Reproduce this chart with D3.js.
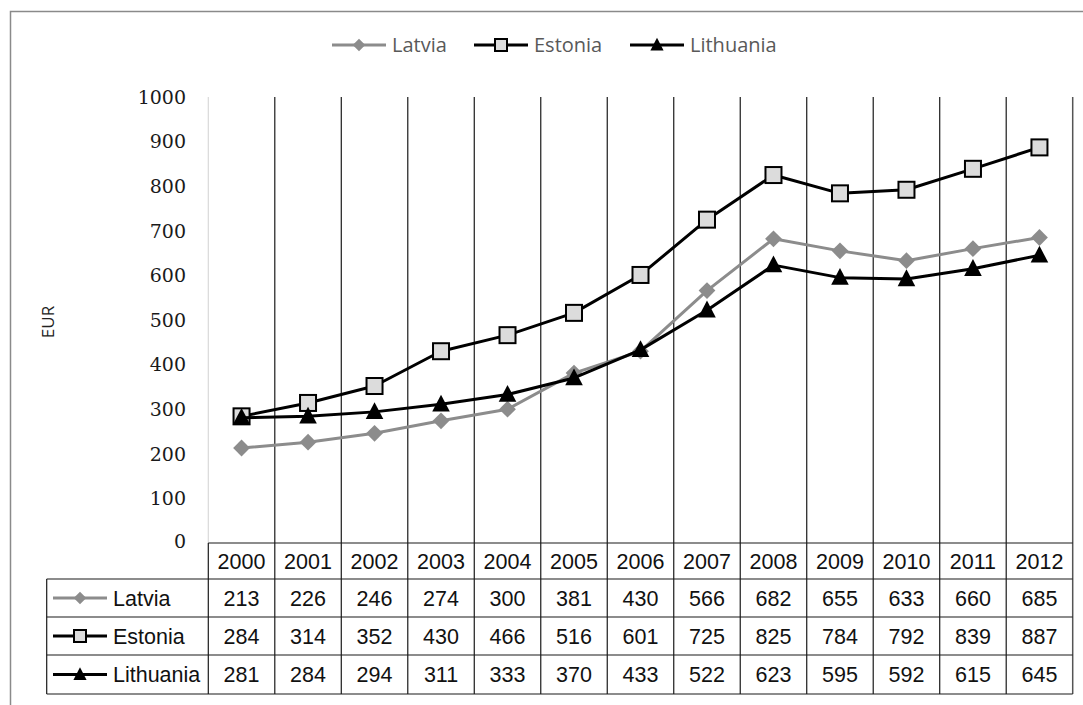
<!DOCTYPE html>
<html>
<head>
<meta charset="utf-8">
<script src="https://cdn.jsdelivr.net/npm/d3@7"></script>
<style>
  body { margin: 0; background: #fff; }
  svg { display: block; }
</style>
</head>
<body>
<svg width="1083" height="705"></svg>
<script>
var years = ["2000", "2001", "2002", "2003", "2004", "2005", "2006", "2007", "2008", "2009", "2010", "2011", "2012"];
var latvia = [213, 226, 246, 274, 300, 381, 430, 566, 682, 655, 633, 660, 685];
var estonia = [284, 314, 352, 430, 466, 516, 601, 725, 825, 784, 792, 839, 887];
var lithuania = [281, 284, 294, 311, 333, 370, 433, 522, 623, 595, 592, 615, 645];
var yTicks = [0, 100, 200, 300, 400, 500, 600, 700, 800, 900, 1000];

var series = [
  {name: "Latvia", values: latvia, color: "#8c8c8c", marker: "diamond"},
  {name: "Estonia", values: estonia, color: "#000", marker: "square"},
  {name: "Lithuania", values: lithuania, color: "#000", marker: "triangle"}
];

var svg = d3.select("svg");

var plotLeft = 208.3, plotRight = 1072.7, plotTop = 97, plotBottom = 543;
var tableLeft = 46.7;
var rowEdges = [543, 579, 617, 655, 694];

var x = d3.scaleBand().domain(years).range([plotLeft, plotRight]);
var y = d3.scaleLinear().domain([0, 1000]).range([plotBottom, plotTop]);

// outer frame
svg.append("rect")
    .attr("x", 10.5).attr("y", 11.5)
    .attr("width", 1090).attr("height", 720)
    .attr("fill", "none").attr("stroke", "#8a8a8a").attr("stroke-width", 1.5);

// vertical grid lines (category boundaries), continue through table
years.forEach(function(d, i) {
  if (i == 0) return;
  svg.append("line")
      .attr("x1", x(d)).attr("x2", x(d))
      .attr("y1", plotTop).attr("y2", rowEdges[4])
      .attr("stroke", "#1a1a1a").attr("stroke-width", 1.2);
});
// value axis line
svg.append("line")
    .attr("x1", plotLeft).attr("x2", plotLeft).attr("y1", plotTop).attr("y2", plotBottom)
    .attr("stroke", "#d9d9d9").attr("stroke-width", 1.2);
// right edge
svg.append("line")
    .attr("x1", plotRight).attr("x2", plotRight).attr("y1", plotTop).attr("y2", rowEdges[4])
    .attr("stroke", "#555").attr("stroke-width", 1.5);

// table lines
svg.append("line")
    .attr("x1", plotLeft).attr("x2", plotRight).attr("y1", rowEdges[0]).attr("y2", rowEdges[0])
    .attr("stroke", "#1a1a1a").attr("stroke-width", 1.2);
rowEdges.slice(1).forEach(function(ry) {
  svg.append("line")
      .attr("x1", tableLeft).attr("x2", plotRight).attr("y1", ry).attr("y2", ry)
      .attr("stroke", "#1a1a1a").attr("stroke-width", 1.2);
});
svg.append("line")
    .attr("x1", tableLeft).attr("x2", tableLeft).attr("y1", rowEdges[1]).attr("y2", rowEdges[4])
    .attr("stroke", "#1a1a1a").attr("stroke-width", 1.2);
svg.append("line")
    .attr("x1", plotLeft).attr("x2", plotLeft).attr("y1", rowEdges[0]).attr("y2", rowEdges[4])
    .attr("stroke", "#1a1a1a").attr("stroke-width", 1.2);

// y tick labels
svg.append("g").selectAll("text")
    .data(yTicks)
  .enter().append("text")
    .attr("x", 186)
    .attr("y", function(d) { return y(d); })
    .attr("dy", function(d) { return d == 0 ? "0.25em" : "0.36em"; })
    .attr("text-anchor", "end")
    .style("font-family", "'DejaVu Serif', serif")
    .style("font-size", "19px")
    .style("fill", "#1a1a1a")
    .text(function(d) { return d; });

// axis title
svg.append("text")
    .attr("transform", "translate(54,322) rotate(-90)")
    .attr("text-anchor", "middle")
    .style("font-family", "'Open Sans', sans-serif")
    .style("font-size", "17px")
    .style("fill", "#222")
    .text("EUR");

var cx = function(i) { return x(years[i]) + x.bandwidth() / 2; };

function drawMarker(g, type, size) {
  if (type == "diamond") {
    g.append("path")
        .attr("d", d3.symbol().type(d3.symbolSquare).size(size * size * 0.55)())
        .attr("transform", "rotate(45)")
        .attr("fill", "#8c8c8c");
  } else if (type == "square") {
    g.append("rect")
        .attr("x", -size / 2).attr("y", -size / 2)
        .attr("width", size).attr("height", size)
        .attr("fill", "#dcdcdc").attr("stroke", "#000").attr("stroke-width", 2);
  } else {
    g.append("path")
        .attr("d", "M0," + (-size * 0.6) + "L" + (size * 0.55) + "," + (size * 0.45) + "L" + (-size * 0.55) + "," + (size * 0.45) + "Z")
        .attr("fill", "#000");
  }
}

// series
var line = d3.line()
    .x(function(d, i) { return cx(i); })
    .y(function(d) { return y(d); });

series.forEach(function(s) {
  svg.append("path")
      .datum(s.values)
      .attr("d", line)
      .attr("fill", "none")
      .attr("stroke", s.color)
      .attr("stroke-width", 3)
      .attr("stroke-linejoin", "round");
  s.values.forEach(function(v, i) {
    var g = svg.append("g").attr("transform", "translate(" + cx(i) + "," + y(v) + ")");
    drawMarker(g, s.marker, 16);
  });
});

// legend
var legendX = [332, 474, 630];
series.forEach(function(s, k) {
  var lx = legendX[k], ly = 45;
  svg.append("line")
      .attr("x1", lx).attr("x2", lx + 54).attr("y1", ly).attr("y2", ly)
      .attr("stroke", s.color).attr("stroke-width", 3);
  var g = svg.append("g").attr("transform", "translate(" + (lx + 27) + "," + ly + ")");
  drawMarker(g, s.marker, 12);
  svg.append("text")
      .attr("x", lx + 60).attr("y", ly).attr("dy", "0.35em")
      .style("font-family", "'Open Sans', sans-serif")
      .style("font-size", "20px")
      .style("fill", "#595959")
      .text(s.name);
});

// table header (years)
var tableFont = "'Liberation Sans', sans-serif";
var tableSize = "21.5px";
svg.append("g").selectAll("text")
    .data(years)
  .enter().append("text")
    .attr("x", function(d) { return x(d) + x.bandwidth() / 2; })
    .attr("y", (rowEdges[0] + rowEdges[1]) / 2)
    .attr("dy", "0.36em")
    .attr("text-anchor", "middle")
    .style("font-family", tableFont)
    .style("font-size", tableSize)
    .style("fill", "#111")
    .text(function(d) { return d; });

// table rows
series.forEach(function(s, r) {
  var ry = (rowEdges[r + 1] + rowEdges[r + 2]) / 2;
  svg.append("line")
      .attr("x1", 53).attr("x2", 107).attr("y1", ry).attr("y2", ry)
      .attr("stroke", s.color).attr("stroke-width", 3);
  var g = svg.append("g").attr("transform", "translate(80," + ry + ")");
  drawMarker(g, s.marker, 12);
  svg.append("text")
      .attr("x", 113).attr("y", ry).attr("dy", "0.36em")
      .style("font-family", tableFont)
      .style("font-size", tableSize)
      .style("fill", "#111")
      .text(s.name);
  svg.append("g").selectAll("text")
      .data(s.values)
    .enter().append("text")
      .attr("x", function(d, i) { return cx(i); })
      .attr("y", ry)
      .attr("dy", "0.36em")
      .attr("text-anchor", "middle")
      .style("font-family", tableFont)
      .style("font-size", tableSize)
      .style("fill", "#111")
      .text(function(d) { return d; });
});
</script>
</body>
</html>
